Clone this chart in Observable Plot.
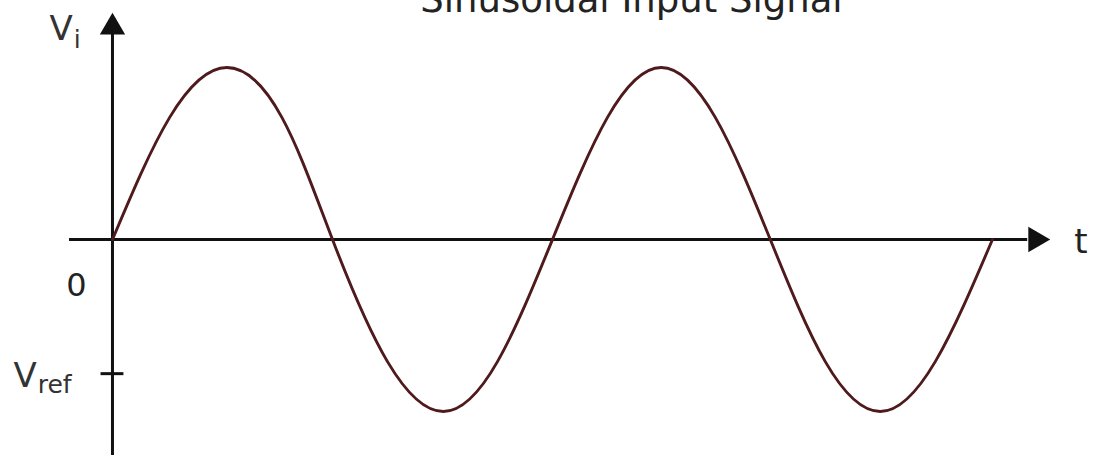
<!DOCTYPE html>
<html>
<head>
<meta charset="utf-8">
<script src="https://cdn.jsdelivr.net/npm/d3@7"></script>
<script src="https://cdn.jsdelivr.net/npm/@observablehq/plot@0.6"></script>
<style>
  html, body { margin: 0; padding: 0; background: #fff; }
  #chart svg { display: block; }
</style>
</head>
<body>
<div id="chart"></div>
<script>
// Input signal sampled every eighth of a period (time in periods, amplitude normalised to the peak)
const sampleTimes = [0, 0.13, 0.26, 0.385, 0.5, 0.625, 0.752, 0.875, 1.0, 1.125, 1.247, 1.37, 1.495, 1.62, 1.745, 1.87, 2.0];
const sampleValues = [0, 0.71, 1, 0.71, 0, -0.71, -1, -0.71, 0, 0.71, 1, 0.71, 0, -0.71, -1, -0.71, 0];

// Reference level marked on the vertical axis
const vRef = -0.78;

// Text drawn on the diagram
const titleText = "Sinusoidal Input Signal";
const axisNames = ["V", "i", "t"];
const levelLabels = ["0", "V", "ref"];

const signal = sampleTimes.map((t, i) => ({t, v: sampleValues[i]}));

const ink = "#111";
const traceColor = "#4e1a1c";
const font = "DejaVu Sans, Verdana, sans-serif";

const chart = Plot.plot({
  width: 1096,
  height: 459,
  margin: 0,
  style: {background: "#fff", fontFamily: font, color: ink},
  x: {domain: [-0.2545, 2.2364], axis: null},
  y: {domain: [-1.2791, 1.3895], axis: null},
  marks: [
    // time axis and amplitude axis
    Plot.ruleY([0], {x1: -0.0977, x2: 2.08, stroke: ink, strokeWidth: 3}),
    Plot.ruleX([0], {y1: -1.256, y2: 1.22, stroke: ink, strokeWidth: 3}),
    // arrow heads
    Plot.dot([{t: 0, v: 1.234}], {x: "t", y: "v", symbol: "triangle", r: 9.4, fill: ink, stroke: null}),
    Plot.dot([{t: 2.098, v: 0}], {x: "t", y: "v", symbol: "triangle", r: 9.4, rotate: 90, fill: ink, stroke: null}),
    // reference level tick
    Plot.ruleY([vRef], {x1: -0.026, x2: 0.026, stroke: ink, strokeWidth: 3}),
    // the sinusoid
    Plot.line(signal, {x: "t", y: "v", curve: "natural", stroke: traceColor, strokeWidth: 2.9}),
    // title
    Plot.text([titleText], {x: 1.1795, y: 1.3198, text: d => d, fontSize: 37, lineAnchor: "bottom", textAnchor: "middle", fill: "#222"}),
    // axis names
    Plot.text([axisNames[0]], {x: -0.143, y: 1.157, text: d => d, fontSize: 34, lineAnchor: "bottom", textAnchor: "start", fill: "#333"}),
    Plot.text([axisNames[1]], {x: -0.088, y: 1.116, text: d => d, fontSize: 25, lineAnchor: "bottom", textAnchor: "start", fill: "#333"}),
    Plot.text([axisNames[2]], {x: 2.186, y: -0.081, text: d => d, fontSize: 34, lineAnchor: "bottom", textAnchor: "start", fill: "#222"}),
    // level labels
    Plot.text([levelLabels[0]], {x: -0.082, y: -0.326, text: d => d, fontSize: 32, lineAnchor: "bottom", textAnchor: "middle", fill: "#222"}),
    Plot.text([levelLabels[1]], {x: -0.225, y: -0.86, text: d => d, fontSize: 34, lineAnchor: "bottom", textAnchor: "start", fill: "#333"}),
    Plot.text([levelLabels[2]], {x: -0.17, y: -0.89, text: d => d, fontSize: 25, lineAnchor: "bottom", textAnchor: "start", fill: "#333"})
  ]
});

document.getElementById("chart").append(chart);
</script>
</body>
</html>
